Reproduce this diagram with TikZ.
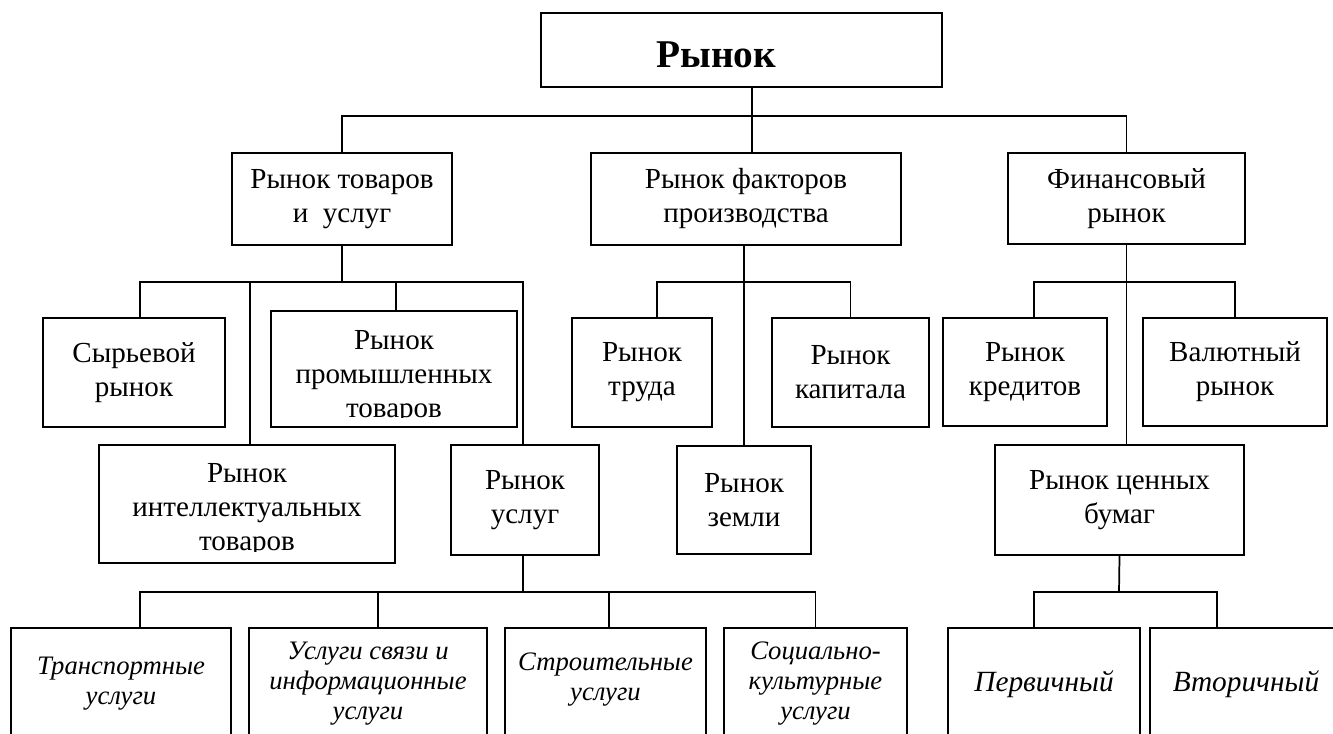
\documentclass[tikz,border=0pt]{standalone}
\usepackage{fontspec}
\setmainfont{Liberation Serif}
\begin{document}
\begin{tikzpicture}[x=0.75pt,y=-0.75pt,
  every node/.style={inner sep=0pt, align=center},
  rfont/.style={font=\fontsize{21.8}{25.5}\selectfont},
  box/.style 2 args={draw, line width=1.3pt,
    minimum width=#1*0.75pt, minimum height=#2*0.75pt, rfont},
  ibox/.style 2 args={box={#1}{#2}, font=\fontsize{20}{22.5}\selectfont\itshape},
  jbox/.style 2 args={box={#1}{#2}, font=\fontsize{22}{25}\selectfont\itshape},
  link/.style={line width=1.3pt}]
\clip (0,0) rectangle (1333,734);

% root
\node[box={401}{74}, line width=1.8pt, font=\fontsize{29.5}{35}\selectfont\bfseries]
  (root) at (741.5,50) {\raisebox{-13.3pt}[0pt][0pt]{Рынок}\hspace*{38pt}};

% second level
\node[box={220}{92}] (tov) at (342,199) {Рынок товаров\\и~ услуг};
\node[box={310}{92}] (fac) at (746,199) {Рынок факторов\\производства};
\node[box={237}{91}] (fin) at (1126.5,198.5) {Финансовый\\рынок};

% goods and services
\node[box={182}{109}] (syr)  at (134,372.5) {Сырьевой\\рынок};
\node[box={246}{116}] (prom) at (394,369)   {};
\node[box={296}{118}] (intl) at (247,504)   {};
\node[box={148}{110}] (usl)  at (525,500)   {Рынок\\услуг};

% the last lines of these two labels run into the lower border and are cut off
\begin{scope}
  \clip (prom.north west) rectangle ([yshift=7.5pt]prom.south east);
  \node[rfont, yshift=-6pt] (prom-t) at (prom.center) {Рынок\\промышленных\\товаров};
\end{scope}
\begin{scope}
  \clip (intl.north west) rectangle ([yshift=9pt]intl.south east);
  \node[rfont, yshift=-4.5pt] (intl-t) at (intl.center) {Рынок\\интеллектуальных\\товаров};
\end{scope}

% factors of production
\node[box={140}{109}] (trud) at (642,372.5)   {Рынок\\труда};
\node[box={157}{109}] (kap)  at (850.5,372.5) {Рынок\\капитала};
\node[box={134}{108}] (zem)  at (744,500)     {Рынок\\земли};

% financial market
\node[box={164}{108}] (kred) at (1025,372)   {Рынок\\кредитов};
\node[box={184}{108}] (val)  at (1235,372)   {Валютный\\рынок};
\node[box={249}{110}] (cen)  at (1119.5,500) {Рынок ценных\\бумаг};

% services
\node[ibox={220}{112}] (tr)  at (121,684)    {Транспортные\\услуги};
\node[ibox={238}{112}] (sv)  at (368,684)    {Услуги связи и\\информационные\\услуги};
\node[ibox={201}{112}] (str) at (605.5,684)  {Строительные\\услуги\rule[-11.5pt]{0pt}{0pt}};
\node[ibox={183}{112}] (soc) at (815.5,684)  {Социально-\\культурные\\услуги};

% securities
\node[jbox={192}{112}] (per) at (1044,684) {Первичный};
\node[jbox={192}{112}] (vt)  at (1246,684) {Вторичный};

% bus junctions
\coordinate (b0) at (752,116);
\coordinate (b1) at (342,282);
\coordinate (b2) at (745,282);
\coordinate (b3) at (1126,282);
\coordinate (b4) at (523,592);
\coordinate (b5) at (1119,592);

% connectors
\draw[link] (root.south -| b0) -- (b0);
\draw[link] (tov.north) |- (b0) -| (fin.north);
\draw[link] (b0) -- (b0 |- fac.north);

\draw[link] (tov.south) -- (b1);
\draw[link] ([xshift=4.5pt]syr.north) |- (b1) -| ([xshift=-1.5pt]usl.north);
\draw[link] ([xshift=2.25pt]intl.north) |- (b1);
\draw[link] ([xshift=1.5pt]prom.north) |- (b1);

\draw[link] (fac.south -| zem.north) -- (zem.north);
\draw[link] ([xshift=11.25pt]trud.north) |- (b2) -| (kap.north);

\draw[link] (fin.south) -- (fin.south |- cen.north);
\draw[link] ([xshift=6.75pt]kred.north) |- (b3) -| (val.north);

\draw[link] ([xshift=-1.5pt]usl.south) -- (b4);
\draw[link] ([xshift=14.25pt]tr.north) |- (b4) -| (soc.north);
\draw[link] ([xshift=7.5pt]sv.north) |- (b4);
\draw[link] ([xshift=2.6pt]str.north) |- (b4);

\draw[link] (cen.south) -- (b5);
\draw[link] ([xshift=-7.5pt]per.north) |- (b5) -| ([xshift=-21.75pt]vt.north);
\end{tikzpicture}
\end{document}
